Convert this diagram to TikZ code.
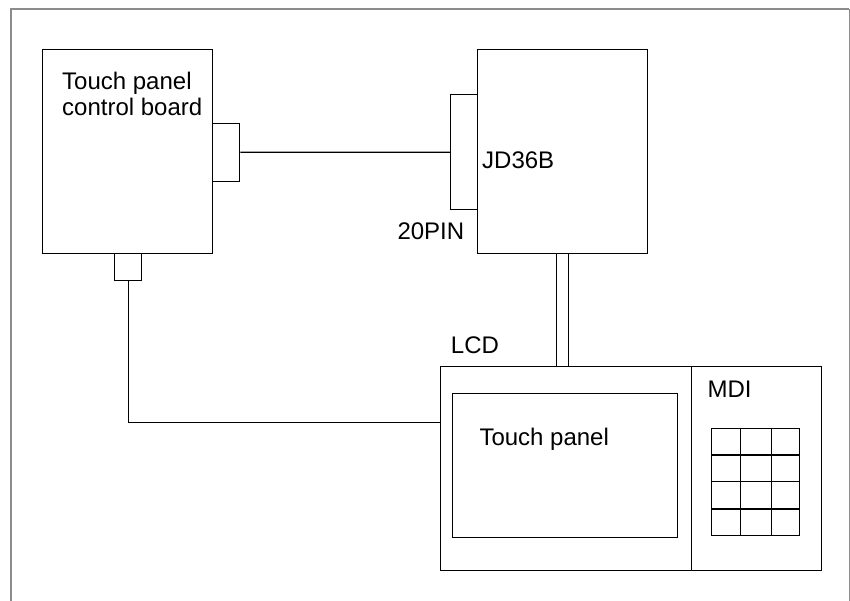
\documentclass[tikz,border=0pt]{standalone}
\usepackage{fontspec}
\setmainfont{Liberation Sans}
\begin{document}
\begin{tikzpicture}[x=1pt,y=-1pt,
  box/.style={draw=black,line width=1.1pt,rectangle,inner sep=0pt,anchor=north west},
  lbl/.style={anchor=base west,inner sep=0pt,align=left,font=\fontsize{24}{26}\selectfont},
  wire/.style={draw=black,line width=1.1pt},
  frameline/.style={draw=black!45,line width=2pt}]
\useasboundingbox (0,0) rectangle (850,600);
% outer frame
\draw[frameline] (11,610) -- (11,9) -- (849,9);
\draw[draw=black!45,line width=1pt] (849,9) -- (849,610);
% control board
\node[box,minimum width=170pt,minimum height=204pt] (cb) at (42,49.3) {};
\node[box,minimum width=27pt,minimum height=58pt] (cbr) at (212.3,122.7) {};
\node[box,minimum width=27pt,minimum height=27pt] (cbb) at (114,253.3) {};
\node[lbl] (cbt) at (62,115) {Touch panel\\control board};
% JD36B board
\node[box,minimum width=170pt,minimum height=204pt] (jd) at (477.3,49.3) {};
\node[box,minimum width=27pt,minimum height=115.3pt] (jdc) at (450.3,94) {};
\node[lbl] (jdt) at (482,168.3) {JD36B};
\node[lbl] (pin) at (397.3,239.3) {20PIN};
% LCD
\node[box,minimum width=380.4pt,minimum height=204.3pt] (lcd) at (440.3,365.7) {};
\node[lbl] (lcdt) at (450.7,353.3) {LCD};
\coordinate (dv) at (691.7,0);
\draw[wire] (dv |- lcd.north) -- (dv |- lcd.south);
\node[box,minimum width=225pt,minimum height=143.4pt] (tp) at (452.3,393.3) {};
\node[lbl] (tpt) at (479.3,445) {Touch panel};
\node[lbl] (mdi) at (707.3,397.7) {MDI};
% keypad
\node[box,minimum width=88pt,minimum height=107.3pt] (kp) at (711.3,427.7) {};
\foreach \xx in {740.7,771.7} \draw[wire] (\xx,427.7) -- (\xx,535);
\foreach \yy in {455,481.7,509} \draw[wire] (711.3,\yy) -- (799.3,\yy);
% connections
\draw[wire] (cbr.east) -- (jdc.west);
\coordinate (d1) at (556.3,0);
\coordinate (d2) at (568.7,0);
\draw[wire] (d1 |- jd.south) -- (d1 |- lcd.north);
\draw[wire] (d2 |- jd.south) -- (d2 |- lcd.north);
\coordinate (lj) at (440.3,422.7);
\draw[wire] (cbb.south) |- (lj);
\end{tikzpicture}
\end{document}
